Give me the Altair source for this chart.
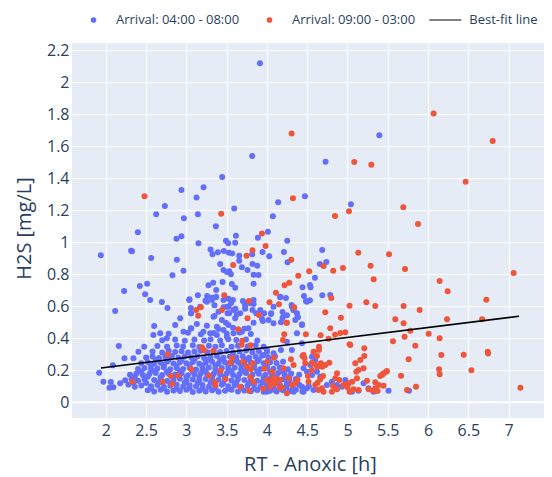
"""H2S vs anoxic retention time, split by arrival window."""
import altair as alt
import pandas as pd

BLUE = "#636efa"
RED = "#EF553B"
INK = "#2a3f5f"
FONT = "Open Sans"

LABEL_EARLY = "Arrival: 04:00 - 08:00"
LABEL_LATE = "Arrival: 09:00 - 03:00"
LABEL_FIT = "Best-fit line"

# (RT anoxic [h], H2S [mg/L])
blue_upper = [
    (3.913, 2.12), (3.817, 1.539), (3.445, 1.408), (3.213, 1.344), (2.939, 1.327),
    (3.126, 1.281), (2.733, 1.227), (3.594, 1.212), (2.625, 1.175), (3.143, 1.175),
    (2.969, 1.15), (4.14, 1.25), (4.074, 1.163), (2.398, 1.063), (3.366, 1.1),
    (2.877, 1.023), (2.939, 1.038), (3.15, 0.994), (3.615, 1.041), (4.012, 1.066),
    (3.888, 1.029), (3.491, 1.01), (3.519, 0.994), (3.606, 0.998), (1.938, 0.919),
    (2.314, 0.948), (2.325, 0.944), (2.563, 0.902), (2.882, 0.891), (2.964, 0.823),
    (2.827, 0.794), (3.3, 0.956), (3.324, 0.925), (3.391, 0.938), (3.466, 0.946),
    (3.528, 0.935), (3.569, 0.931), (3.656, 0.916), (3.656, 0.885), (3.817, 0.925),
    (3.945, 0.939), (4.029, 0.913), (3.42, 0.864), (3.461, 0.827), (3.503, 0.814),
    (3.553, 0.8), (3.532, 0.82), (3.689, 0.844), (3.759, 0.827), (3.821, 0.864),
    (3.88, 0.854), (3.834, 0.798), (3.896, 0.796), (3.834, 0.741), (2.513, 0.741),
    (2.422, 0.727), (2.227, 0.696), (2.488, 0.675), (2.55, 0.639), (2.696, 0.627),
    (2.765, 0.589), (2.116, 0.571), (3.035, 0.639), (3.143, 0.669), (3.275, 0.731),
    (3.333, 0.748), (3.37, 0.702), (3.449, 0.752), (3.565, 0.739), (3.606, 0.716),
    (3.258, 0.664), (3.317, 0.654), (3.366, 0.656), (3.237, 0.635), (3.461, 0.639),
    (3.523, 0.648), (3.578, 0.639), (3.523, 0.598), (3.585, 0.577), (3.727, 0.616),
    (3.834, 0.614), (4.165, 0.656), (3.056, 0.589), (3.056, 0.556), (3.349, 0.606),
    (3.349, 0.539), (3.503, 0.598), (3.532, 0.556), (3.61, 0.585), (3.627, 0.55),
    (3.821, 0.577), (3.867, 0.556), (3.938, 0.523), (4.05, 0.552), (3.73, 0.585),
    (3.039, 0.644), (3.06, 0.556), (3.056, 0.463), (3.171, 0.598), (3.255, 0.629),
    (3.317, 0.639), (3.37, 0.66), (3.399, 0.566), (3.461, 0.594), (3.511, 0.556),
    (3.553, 0.619), (3.337, 0.535), (3.441, 0.514), (3.523, 0.483), (3.606, 0.525),
    (3.668, 0.556), (3.73, 0.598), (3.793, 0.619), (3.702, 0.633), (3.834, 0.639),
    (3.917, 0.577), (3.966, 0.556), (4.02, 0.514), (4.082, 0.598), (2.923, 0.525),
    (2.861, 0.483), (2.6, 0.477), (3.13, 0.489), (3.255, 0.479), (3.379, 0.473),
    (3.491, 0.498), (3.95, 0.508), (3.834, 0.498), (4.082, 0.494),
]

blue_left = [
    (2.161, 0.352), (2.231, 0.275), (2.343, 0.275), (2.087, 0.231), (1.917, 0.185),
    (1.97, 0.129), (2.062, 0.127), (2.045, 0.091), (2.178, 0.119), (2.094, 0.094),
    (2.476, 0.348), (2.405, 0.316), (2.758, 0.4), (2.675, 0.431), (2.591, 0.421),
    (2.964, 0.441), (3.212, 0.441), (3.296, 0.431), (3.379, 0.421), (3.461, 0.452),
    (3.503, 0.41), (3.585, 0.431), (3.689, 0.441), (3.771, 0.463),
]

blue_dense = [
    (2.52, 0.075), (2.60, 0.068), (2.68, 0.079), (2.76, 0.066), (2.84, 0.074),
    (2.92, 0.07), (3.00, 0.078), (3.08, 0.065), (3.16, 0.073), (3.24, 0.068),
    (3.32, 0.076), (3.40, 0.066), (3.48, 0.072), (3.56, 0.079), (3.64, 0.067),
    (3.72, 0.074), (3.80, 0.069), (3.88, 0.077), (3.96, 0.066), (4.04, 0.073),
    (4.12, 0.068), (4.20, 0.076), (4.28, 0.07), (4.36, 0.079), (4.44, 0.067),
    (2.28, 0.112), (2.36, 0.098), (2.44, 0.105), (2.56, 0.1), (2.64, 0.108),
    (2.72, 0.097), (2.80, 0.104), (2.88, 0.11), (2.96, 0.099), (3.04, 0.106),
    (3.12, 0.101), (3.20, 0.109), (3.28, 0.097), (3.36, 0.104), (3.44, 0.11),
    (3.52, 0.1), (3.60, 0.107), (3.68, 0.098), (3.76, 0.105), (3.84, 0.111),
    (3.92, 0.099), (4.00, 0.106), (4.08, 0.101), (4.16, 0.108), (4.24, 0.097),
    (4.32, 0.104), (4.40, 0.11), (4.52, 0.1),
    (2.24, 0.138), (2.32, 0.145), (2.40, 0.135), (2.48, 0.142), (2.60, 0.139),
    (2.68, 0.146), (2.76, 0.134), (2.84, 0.141), (2.92, 0.147), (3.00, 0.136),
    (3.08, 0.143), (3.16, 0.138), (3.24, 0.145), (3.32, 0.134), (3.40, 0.141),
    (3.48, 0.147), (3.56, 0.137), (3.64, 0.144), (3.72, 0.139), (3.80, 0.146),
    (3.88, 0.135), (3.96, 0.142), (4.04, 0.148), (4.12, 0.137), (4.20, 0.144),
    (4.28, 0.138), (4.36, 0.145),
    (2.30, 0.172), (2.38, 0.18), (2.46, 0.17), (2.54, 0.177), (2.62, 0.183),
    (2.70, 0.171), (2.78, 0.178), (2.86, 0.174), (2.94, 0.181), (3.02, 0.169),
    (3.10, 0.176), (3.18, 0.182), (3.26, 0.172), (3.34, 0.179), (3.42, 0.174),
    (3.50, 0.18), (3.58, 0.17), (3.66, 0.177), (3.74, 0.183), (3.82, 0.173),
    (3.90, 0.179), (3.98, 0.171), (4.06, 0.178), (4.14, 0.184), (4.22, 0.174),
    (4.30, 0.18), (4.40, 0.172),
    (2.40, 0.208), (2.48, 0.215), (2.56, 0.205), (2.64, 0.212), (2.72, 0.218),
    (2.80, 0.207), (2.88, 0.214), (2.96, 0.209), (3.04, 0.216), (3.12, 0.205),
    (3.20, 0.212), (3.28, 0.218), (3.36, 0.207), (3.44, 0.214), (3.52, 0.209),
    (3.60, 0.216), (3.68, 0.206), (3.76, 0.213), (3.84, 0.219), (3.92, 0.208),
    (4.00, 0.215), (4.08, 0.21), (4.16, 0.217), (4.26, 0.206),
    (2.44, 0.245), (2.52, 0.252), (2.60, 0.241), (2.68, 0.248), (2.76, 0.254),
    (2.84, 0.243), (2.92, 0.25), (3.00, 0.245), (3.08, 0.252), (3.16, 0.241),
    (3.24, 0.248), (3.32, 0.254), (3.40, 0.243), (3.48, 0.25), (3.56, 0.245),
    (3.64, 0.252), (3.72, 0.242), (3.80, 0.249), (3.88, 0.255), (3.96, 0.244),
    (4.04, 0.251), (4.12, 0.246), (4.20, 0.253),
    (2.50, 0.28), (2.58, 0.287), (2.66, 0.277), (2.74, 0.284), (2.82, 0.29),
    (2.90, 0.279), (2.98, 0.286), (3.06, 0.281), (3.14, 0.288), (3.22, 0.277),
    (3.30, 0.284), (3.38, 0.29), (3.46, 0.279), (3.54, 0.286), (3.62, 0.281),
    (3.70, 0.288), (3.78, 0.278), (3.86, 0.285), (3.94, 0.291), (4.02, 0.28),
    (4.10, 0.287),
    (2.58, 0.318), (2.70, 0.312), (2.78, 0.322), (2.86, 0.315), (2.94, 0.32),
    (3.02, 0.311), (3.10, 0.318), (3.18, 0.323), (3.26, 0.313), (3.34, 0.319),
    (3.42, 0.314), (3.50, 0.321), (3.58, 0.312), (3.66, 0.318), (3.74, 0.324),
    (3.82, 0.313), (3.90, 0.319), (4.00, 0.315),
    (2.64, 0.352), (2.76, 0.347), (2.88, 0.355), (2.96, 0.349), (3.08, 0.356),
    (3.16, 0.346), (3.28, 0.353), (3.36, 0.348), (3.44, 0.356), (3.56, 0.347),
    (3.64, 0.354), (3.76, 0.349), (3.86, 0.356), (3.96, 0.348),
    (2.70, 0.388), (2.86, 0.392), (2.98, 0.385), (3.10, 0.393), (3.22, 0.386),
    (3.30, 0.394), (3.42, 0.387), (3.52, 0.395), (3.62, 0.389), (3.74, 0.392),
    (3.88, 0.386),
    (2.78, 0.428), (3.02, 0.435), (3.18, 0.426), (3.34, 0.433), (3.50, 0.43),
    (3.66, 0.436), (3.80, 0.427), (3.06, 0.462), (3.40, 0.458), (3.58, 0.466),
    (3.72, 0.46),
]

# second, offset layer of the packed cloud near the floor
blue_dense_fill = [
    (2.56, 0.086), (2.72, 0.088), (2.88, 0.085), (3.04, 0.089), (3.20, 0.086),
    (3.36, 0.088), (3.52, 0.085), (3.68, 0.089), (3.84, 0.086), (4.00, 0.088),
    (4.16, 0.085), (4.32, 0.088), (2.34, 0.122), (2.50, 0.121), (2.66, 0.124),
    (2.82, 0.12), (2.98, 0.123), (3.14, 0.121), (3.30, 0.124), (3.46, 0.12),
    (3.62, 0.123), (3.78, 0.121), (3.94, 0.124), (4.10, 0.12), (4.26, 0.123),
    (2.36, 0.158), (2.52, 0.16), (2.68, 0.157), (2.84, 0.161), (3.00, 0.158),
    (3.16, 0.16), (3.32, 0.157), (3.48, 0.161), (3.64, 0.158), (3.80, 0.16),
    (3.96, 0.157), (4.12, 0.161), (4.28, 0.158), (2.44, 0.192), (2.60, 0.194),
    (2.76, 0.191), (2.92, 0.195), (3.08, 0.192), (3.24, 0.194), (3.40, 0.191),
    (3.56, 0.195), (3.72, 0.192), (3.88, 0.194), (4.04, 0.191), (4.20, 0.195),
    (2.56, 0.229), (2.72, 0.231), (2.88, 0.228), (3.04, 0.232), (3.20, 0.229),
    (3.36, 0.231), (3.52, 0.228), (3.68, 0.232), (3.84, 0.229), (4.00, 0.231),
    (2.62, 0.264), (2.78, 0.266), (2.94, 0.263), (3.10, 0.267), (3.26, 0.264),
    (3.42, 0.266), (3.58, 0.263), (3.74, 0.267), (3.90, 0.264),
]

blue_right = [
    (5.395, 1.669), (4.728, 1.504), (4.472, 1.288), (5.043, 1.238), (4.252, 1.01),
    (4.211, 0.939), (4.256, 0.875), (4.687, 0.952), (4.737, 0.877), (4.658, 0.864),
    (4.596, 0.779), (4.442, 0.719), (4.534, 0.733), (4.542, 0.719), (4.165, 0.66),
    (4.236, 0.652), (4.46, 0.664), (4.484, 0.633), (4.534, 0.638), (4.687, 0.669),
    (4.786, 0.671), (4.306, 0.608), (4.331, 0.577), (4.385, 0.531), (4.435, 0.483),
    (4.194, 0.564), (4.248, 0.544), (4.174, 0.5), (4.194, 0.529), (5.764, 0.073),
    (4.053, 0.556), (4.33, 0.577), (4.311, 0.598), (4.373, 0.556), (4.38, 0.531),
    (4.435, 0.488), (4.352, 0.514), (4.497, 0.629), (4.373, 0.431), (4.435, 0.369),
    (4.248, 0.379), (4.31, 0.327), (4.174, 0.327), (4.083, 0.306), (4.0, 0.327),
    (3.958, 0.296), (4.559, 0.285), (4.6, 0.264), (4.538, 0.233), (4.455, 0.213),
    (4.497, 0.191), (4.559, 0.171), (4.621, 0.191), (4.662, 0.16), (4.373, 0.129),
    (4.435, 0.098), (4.497, 0.088), (4.579, 0.077), (4.331, 0.066), (4.455, 0.066),
    (4.745, 0.108), (4.807, 0.129), (4.87, 0.108), (4.932, 0.098), (4.973, 0.139),
    (5.056, 0.066), (5.138, 0.073), (5.2, 0.119), (5.262, 0.088), (5.324, 0.066),
    (5.51, 0.073), (4.166, 0.098), (4.248, 0.119), (4.103, 0.077), (4.0, 0.066),
]

red_low = [
    (2.48, 1.288), (3.432, 1.179), (3.938, 1.056), (3.983, 0.977), (3.747, 0.916),
    (3.821, 0.95), (3.581, 0.858), (3.47, 0.669), (3.776, 0.633), (4.112, 0.685),
    (4.032, 0.625), (4.149, 0.613), (3.122, 0.577), (3.18, 0.594), (3.147, 0.541),
    (3.441, 0.577), (3.759, 0.525), (3.901, 0.546), (3.643, 0.456), (2.77, 0.3),
    (2.33, 0.129), (2.703, 0.129), (2.807, 0.164), (2.898, 0.166), (2.824, 0.114),
    (3.06, 0.206), (3.193, 0.344), (3.221, 0.325), (3.333, 0.321), (3.283, 0.166),
    (3.358, 0.127), (3.358, 0.108), (3.424, 0.198), (3.486, 0.146), (3.544, 0.248),
    (3.569, 0.277), (3.693, 0.385), (3.685, 0.36), (3.796, 0.356), (3.702, 0.254),
    (3.752, 0.223), (3.801, 0.206), (3.821, 0.244), (3.793, 0.158), (3.834, 0.127),
    (3.668, 0.098), (3.776, 0.073), (3.97, 0.21), (4.004, 0.254), (4.066, 0.191),
    (4.087, 0.279), (4.082, 0.15), (4.025, 0.135), (4.107, 0.119), (4.045, 0.098),
    (3.954, 0.085), (4.156, 0.091),
]

red_mid = [
    (5.026, 0.604), (5.234, 0.625), (5.345, 0.602), (5.697, 0.602), (4.724, 0.563),
    (4.919, 0.529), (5.594, 0.52), (5.697, 0.494), (4.24, 0.498), (4.786, 0.463),
    (4.215, 0.425), (4.484, 0.425), (4.666, 0.419), (4.845, 0.423), (4.911, 0.433),
    (4.973, 0.438), (4.765, 0.398), (5.565, 0.381), (5.709, 0.41), (4.199, 0.389),
    (4.646, 0.348), (4.646, 0.327), (5.026, 0.363), (5.209, 0.338), (4.442, 0.289),
    (4.621, 0.289), (5.209, 0.289), (5.759, 0.269), (4.476, 0.244), (4.559, 0.248),
    (4.609, 0.233), (4.671, 0.244), (4.724, 0.233), (4.774, 0.248), (4.298, 0.269),
    (4.331, 0.233), (4.559, 0.202), (4.629, 0.223), (4.687, 0.223), (5.097, 0.244),
    (5.159, 0.264), (5.138, 0.202), (5.11, 0.191), (5.2, 0.213), (5.49, 0.196),
    (5.448, 0.181), (5.407, 0.164), (4.87, 0.181), (4.849, 0.15), (4.898, 0.139),
    (4.696, 0.164), (4.662, 0.144), (4.629, 0.123), (4.6, 0.108), (4.509, 0.164),
    (4.517, 0.129), (4.951, 0.108), (5.013, 0.119), (5.059, 0.129), (5.118, 0.15),
    (5.242, 0.135), (5.345, 0.125), (5.387, 0.108), (5.345, 0.088), (5.448, 0.104),
    (4.683, 0.088), (4.703, 0.066), (4.641, 0.077), (4.82, 0.102), (4.87, 0.081),
    (4.807, 0.066), (5.001, 0.094), (5.026, 0.066), (5.076, 0.081), (5.138, 0.077),
    (5.262, 0.081), (5.317, 0.073), (5.374, 0.071), (5.739, 0.077), (4.248, 0.056),
    (4.116, 0.15), (4.083, 0.129), (4.166, 0.139), (4.0, 0.139), (4.041, 0.102),
    (4.186, 0.094), (4.31, 0.108), (4.351, 0.119), (4.38, 0.139), (4.268, 0.15),
    (4.206, 0.213), (4.455, 0.296), (4.467, 0.275), (4.579, 0.316),
]

red_high = [
    (6.07, 1.806), (4.306, 1.681), (6.803, 1.633), (5.084, 1.502), (5.296, 1.485),
    (6.467, 1.379), (4.323, 1.275), (5.019, 1.194), (4.845, 1.164), (5.693, 1.219),
    (5.876, 1.114), (4.302, 0.891), (4.703, 0.852), (4.823, 0.823), (4.944, 0.839),
    (5.134, 0.935), (5.516, 0.925), (5.287, 0.854), (5.714, 0.833), (5.325, 0.77),
    (7.063, 0.808), (4.525, 0.819), (4.389, 0.791), (4.277, 0.748), (4.219, 0.731),
    (4.799, 0.652), (4.339, 0.594), (4.248, 0.498), (5.896, 0.577), (6.144, 0.758),
    (6.244, 0.694), (6.724, 0.641), (6.236, 0.52), (6.671, 0.52), (6.008, 0.429),
    (6.144, 0.4), (5.78, 0.448), (5.842, 0.354), (6.165, 0.296), (6.443, 0.298),
    (6.741, 0.316), (6.745, 0.305), (6.538, 0.2), (6.137, 0.206), (6.144, 0.175),
    (5.665, 0.166), (5.432, 0.173), (5.482, 0.191), (5.851, 0.098), (7.147, 0.091),
    (5.035, 0.358),
]

fit_x = [1.94, 7.13]
fit_y = [0.215, 0.538]

x_ticks = [2, 2.5, 3, 3.5, 4, 4.5, 5, 5.5, 6, 6.5, 7]
y_ticks = [0, 0.2, 0.4, 0.6, 0.8, 1, 1.2, 1.4, 1.6, 1.8, 2, 2.2]

blue = blue_upper + blue_left + blue_dense + blue_dense_fill + blue_right
red = red_low + red_mid + red_high
pts = pd.DataFrame(
    [(x, y, LABEL_EARLY) for x, y in blue] + [(x, y, LABEL_LATE) for x, y in red],
    columns=["rt", "h2s", "group"],
)
fit = pd.DataFrame({"rt": fit_x, "h2s": fit_y, "group": [LABEL_FIT] * len(fit_x)})
zero = pd.DataFrame({"rt": [fit_x[0]], "h2s": [0]})

x_enc = alt.X(
    "rt:Q",
    scale=alt.Scale(domain=[1.58, 7.44], nice=False, zero=False),
    axis=alt.Axis(values=x_ticks, format="~g", title="RT - Anoxic [h]",
                  labelPadding=17, labelBaseline="alphabetic",
                  titleX=238, titleY=52, titleBaseline="alphabetic"),
)
y_enc = alt.Y(
    "h2s:Q",
    scale=alt.Scale(domain=[-0.098, 2.246], nice=False, zero=False),
    axis=alt.Axis(values=y_ticks, format="~g", title="H2S [mg/L]",
                  labelPadding=3, titleX=-42, titleY=185,
                  titleAngle=270, titleAlign="center", titleBaseline="alphabetic"),
)

zero_line = alt.Chart(zero).mark_rule(color="white", strokeWidth=2).encode(y=y_enc)

points = alt.Chart(pts).mark_circle(size=36, opacity=1).encode(
    x=x_enc,
    y=y_enc,
    color=alt.Color("group:N",
                    scale=alt.Scale(domain=[LABEL_EARLY, LABEL_LATE], range=[BLUE, RED]),
                    legend=alt.Legend(title=None, orient="none", direction="horizontal",
                                      legendX=15, legendY=-31, symbolType="circle",
                                      symbolSize=32, symbolStrokeWidth=0,
                                      labelOffset=16, columnPadding=23, clipHeight=16)),
)

best_fit = alt.Chart(fit).mark_line(strokeWidth=1.6).encode(
    x=x_enc,
    y=y_enc,
    color=alt.Color("group:N",
                    scale=alt.Scale(domain=[LABEL_FIT], range=["black"]),
                    legend=alt.Legend(title=None, orient="none", legendX=356.3,
                                      legendY=-31, symbolType="stroke",
                                      symbolSize=1024, symbolStrokeWidth=1.2,
                                      labelOffset=7, clipHeight=16)),
)

chart = alt.layer(zero_line, points, best_fit).resolve_scale(
    color="independent"
).properties(
    width=472,
    height=375,
    padding={"left": 64, "top": 35, "right": 0, "bottom": 60},
    autosize=alt.AutoSizeParams(type="none"),
    background="white",
).configure(
    font=FONT,
).configure_view(
    fill="#E5ECF6",
    strokeWidth=0,
).configure_axis(
    grid=True,
    gridColor="white",
    gridWidth=1,
    gridOpacity=1,
    domain=False,
    ticks=False,
    tickSize=0,
    labelFlush=False,
    labelFont=FONT,
    labelFontSize=16,
    labelColor=INK,
    titleFont=FONT,
    titleFontSize=20,
    titleFontWeight="normal",
    titleColor=INK,
).configure_legend(
    labelFont=FONT,
    labelFontSize=13,
    labelColor=INK,
    padding=0,
)

chart.save("out.html", embed_options={"renderer": "svg", "actions": False})
